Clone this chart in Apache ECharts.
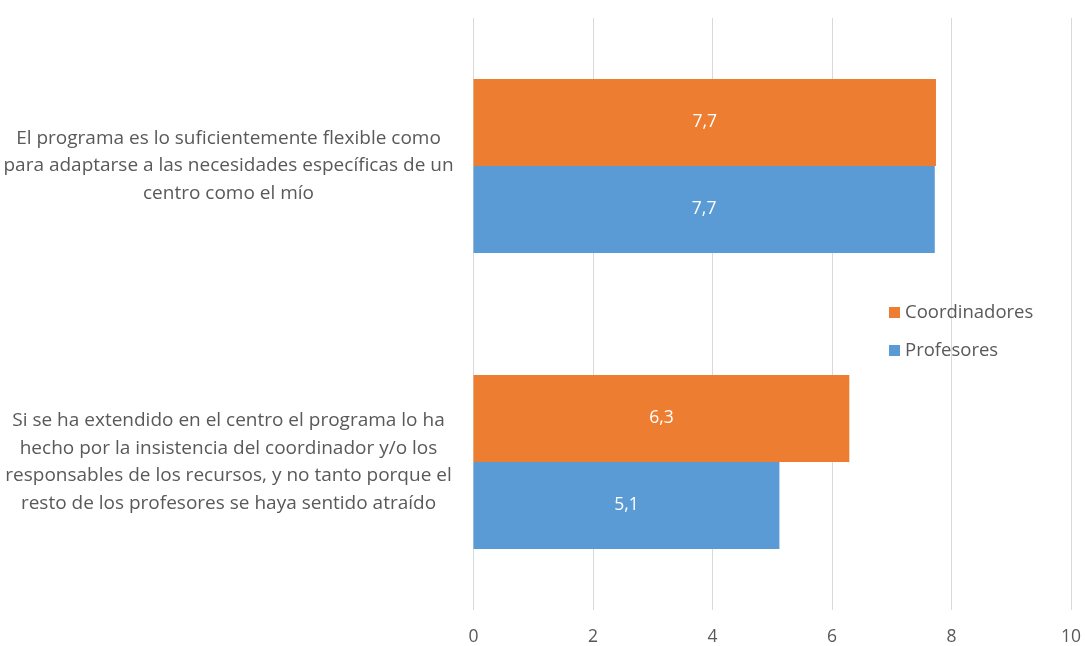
<!DOCTYPE html>
<html>
<head>
<meta charset="utf-8">
<script src="https://cdn.jsdelivr.net/npm/echarts@6/dist/echarts.min.js"></script>
<style>
  html, body { margin: 0; padding: 0; background: #fff; }
  #chart { width: 1085px; height: 646px; }
</style>
</head>
<body>
<div id="chart"></div>
<script>
// categorias (de abajo hacia arriba en el eje)
var categories = [
  "Si se ha extendido en el centro el programa lo ha\nhecho por la insistencia del coordinador y/o los\nresponsables de los recursos, y no tanto porque el\nresto de los profesores se haya sentido atraído",
  "El programa es lo suficientemente flexible como\npara adaptarse a las necesidades específicas de un\ncentro como el mío"
];
var coordinadores = [6.29, 7.74];
var profesores = [5.12, 7.72];
var xTicks = [0, 2, 4, 6, 8, 10];

var font = "'Open Sans', Lato, sans-serif";
var myChart = echarts.init(document.getElementById("chart"));

// etiqueta con una cifra decimal y coma
function coma(p) {
  return p.value.toFixed(1).replace(".", ",");
}

myChart.setOption({
  animation: false,
  textStyle: { fontFamily: font },
  grid: { left: 473.5, right: 14, top: 18, bottom: 36, containLabel: false },
  legend: {
    orient: "vertical",
    left: 884,
    top: 298,
    itemWidth: 11,
    itemHeight: 11,
    itemGap: 19,
    icon: "rect",
    textStyle: { fontSize: 18.5, color: "#595959", fontFamily: font },
    data: ["Coordinadores", "Profesores"]
  },
  xAxis: {
    type: "value",
    min: xTicks[0],
    max: xTicks[xTicks.length - 1],
    interval: 2,
    axisLine: { show: false },
    axisTick: { show: false },
    axisLabel: { color: "#595959", fontSize: 17.5, margin: 18, fontFamily: font },
    splitLine: { lineStyle: { color: "#d9d9d9", width: 1 } }
  },
  yAxis: {
    type: "category",
    data: categories,
    axisLine: { show: false },
    axisTick: { show: false },
    axisLabel: {
      color: "#595959",
      fontSize: 19,
      lineHeight: 27.5,
      align: "center",
      margin: 245,
      fontFamily: font
    }
  },
  series: [
    {
      name: "Coordinadores",
      type: "bar",
      data: coordinadores,
      barWidth: 87,
      barGap: "0%",
      itemStyle: { color: "#ed7d31" },
      label: { show: true, position: "inside", color: "#fff", fontSize: 17.5, formatter: coma }
    },
    {
      name: "Profesores",
      type: "bar",
      data: profesores,
      barWidth: 87,
      barGap: "0%",
      itemStyle: { color: "#5b9bd5" },
      label: { show: true, position: "inside", color: "#fff", fontSize: 17.5, formatter: coma }
    }
  ]
});
</script>
</body>
</html>
